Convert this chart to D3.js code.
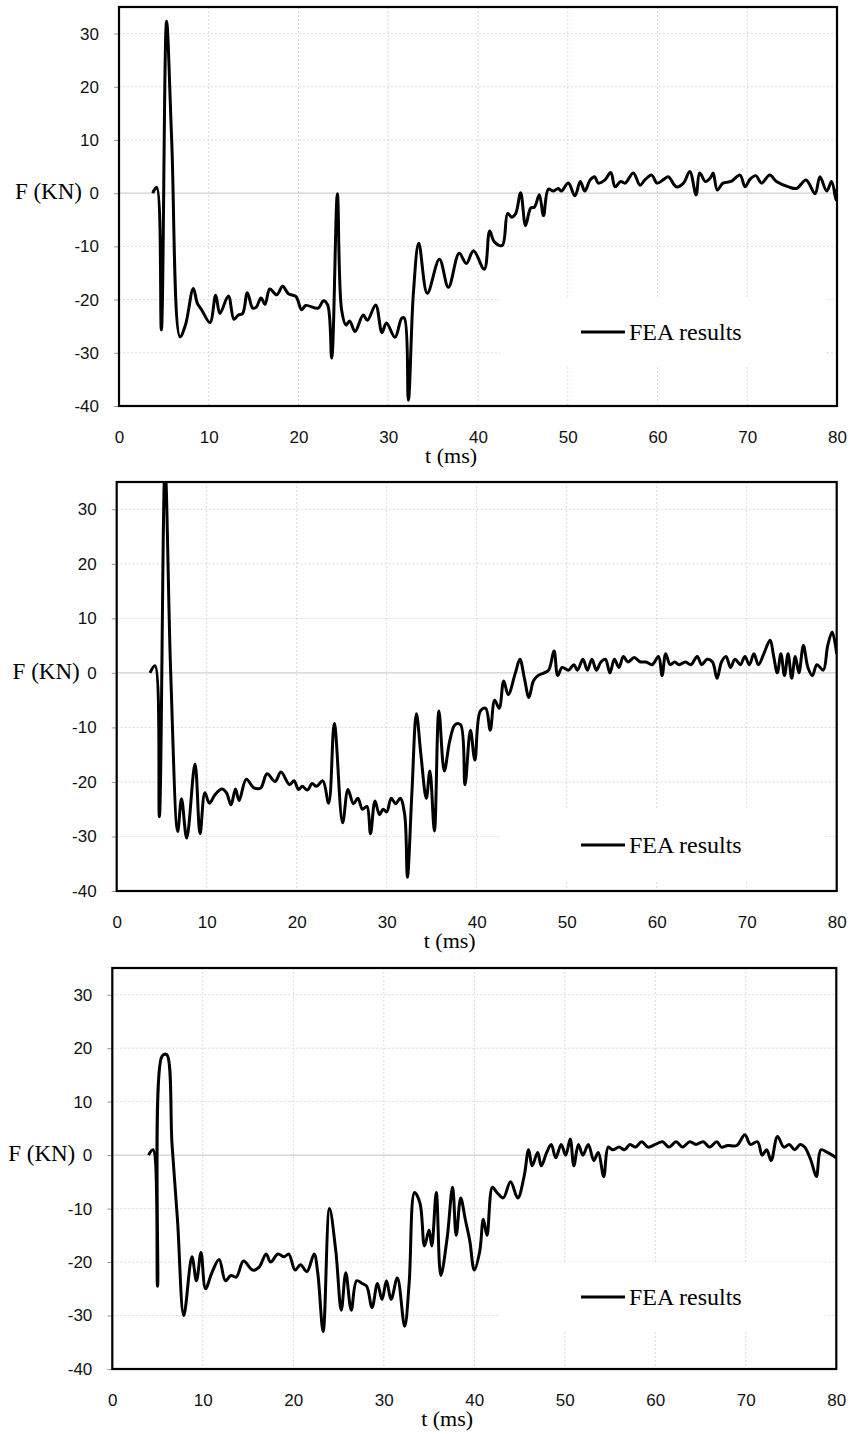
<!DOCTYPE html>
<html>
<head>
<meta charset="utf-8">
<script src="https://cdn.jsdelivr.net/npm/d3@7"></script>
<style>
	body { margin: 0; background: #fff; }
</style>
</head>
<body>
<svg id="chart" width="850" height="1434"></svg>
<script>
// tick values and labels
const xTicks = [0, 10, 20, 30, 40, 50, 60, 70, 80];
const yTicks = [-40, -30, -20, -10, 0, 10, 20, 30];
const xLabel = 't (ms)';
const yLabel = 'F (KN)';
const legendLabel = 'FEA results';

// [t (ms), F (KN)]
const fea1 = [[3.75,0],[4.2,1.1],[4.72,-25.7],[5.3,32.3],[5.87,10],[6.8,-27],[7.4,-24.8],[8.28,-17.9],[8.73,-20.7],[9.2,-21.9],
	[10.14,-24.3],[10.77,-19.2],[11.25,-22.6],[12.18,-19.3],[12.81,-23.7],[13.3,-22.9],[13.78,-22.6],[14.3,-18.7],[14.9,-21.6],[15.3,-21.4],
	[15.82,-19.7],[16.27,-20.9],[16.8,-18],[17.57,-19.1],[18.24,-17.5],[18.87,-18.9],[19.7,-19.4],[20.35,-21.9],[20.8,-21.1],[22.2,-21.6],
	[22.77,-20.2],[23.25,-21],[23.7,-31],[24.33,-0.1],[24.8,-21.9],[25.3,-24.8],[25.7,-24],[26.3,-26],[27.2,-22.9],[27.67,-23.9],
	[28.6,-21],[29.3,-26.2],[29.8,-24.4],[30.75,-27.1],[31.5,-23.5],[31.8,-23.5],[32.24,-38.9],[32.8,-18.8],[33.4,-9.4],[34.35,-18.8],
	[35.7,-12.4],[36.7,-17.7],[37.9,-11.3],[38.7,-13.2],[39.5,-10.8],[40.7,-14.3],[41.3,-7.1],[41.8,-9.1],[42.7,-9.8],[43.3,-3.8],
	[43.75,-4.5],[44.2,-3.8],[44.75,0.1],[45.3,-6.1],[45.87,-2.8],[46.3,-2.6],[46.83,-0.3],[47.3,-4.2],[47.83,0.75],[48.4,0.4],
	[48.95,0.9],[49.3,0.4],[50.06,1.9],[50.8,-0.5],[51.4,2.2],[51.9,0.4],[52.5,2.5],[53,3.1],[53.4,1.9],[54.15,2.5],
	[54.8,3.9],[55.27,1.2],[55.9,2.2],[56.4,1.9],[57.3,3.8],[58.05,1.5],[58.6,2.5],[59.35,3.4],[59.95,1.9],[60.7,2.6],
	[61.2,3.1],[62.1,1.2],[62.9,1.9],[63.6,4.1],[64.3,-0.3],[64.7,3.8],[65.35,2.2],[65.9,2.9],[66.2,3.8],[66.66,0.6],
	[67.3,1.9],[68.2,2.2],[69.2,3.4],[69.75,1.2],[70.3,2.6],[70.95,3.3],[71.6,1.9],[72.5,3.4],[73.25,2.2],[74.6,1.2],
	[75.5,0.9],[76.55,2.5],[77.55,-0.1],[78.1,3.1],[78.85,0.4],[79.4,2.2],[79.9,-1.3],[80,0.8]];

const fea2 = [[3.7,0],[4.26,1.3],[4.74,-26.4],[5.37,38],[6,0],[6.78,-29.1],[7.2,-23.1],[7.78,-30.3],[8.7,-16.7],[9.26,-29.5],
	[9.8,-22],[10.3,-23.9],[10.9,-22.4],[11.67,-21.3],[12.2,-22],[12.7,-24.2],[13.2,-21.3],[13.6,-23.4],[14.4,-19.5],[15.25,-21.1],
	[16,-21.1],[16.7,-18.5],[17.6,-19.9],[18.25,-18.2],[19.2,-20.5],[19.7,-19.8],[20.2,-21.4],[20.6,-20.8],[21.2,-21.5],[21.7,-20.3],
	[22.2,-20.8],[22.9,-19.8],[23.55,-23.9],[24.18,-9.3],[25.1,-27.5],[25.7,-21.4],[26.3,-24],[26.8,-23],[27.3,-25],[27.8,-24.5],
	[28.2,-29.5],[28.7,-23.5],[29.2,-26],[29.6,-25],[30,-25.5],[30.5,-23],[31,-24],[31.5,-23],[32,-26],[32.3,-37.5],
	[32.8,-22],[33.3,-7.5],[33.8,-15],[34.4,-23],[34.8,-18],[35.3,-29],[35.8,-7],[36.4,-18],[37,-12.5],[37.6,-9.5],
	[38.2,-9.5],[38.7,-20.5],[39.3,-10.5],[39.8,-16],[40.4,-7],[41,-6.5],[41.5,-10.5],[42,-5],[42.5,-6.5],[43,-1.5],
	[43.5,-4],[44.3,0],[44.8,2.5],[45.3,-1],[45.8,-4.5],[46.3,-1.5],[46.8,-0.5],[47.5,0],[48,0.5],[48.6,4],
	[49,-0.5],[49.5,1],[50.2,0.5],[50.8,1.5],[51.2,0.5],[51.8,2.5],[52.3,0.5],[52.8,2.5],[53.3,0.5],[53.8,2],
	[54.3,2.5],[54.8,0],[55.3,2.5],[55.8,1],[56.3,3],[56.8,2],[57.5,2.8],[58.2,2],[58.8,2],[59.5,1.5],
	[60.2,3],[60.6,-0.5],[61,3.5],[61.5,1.5],[62,2],[62.5,1.5],[63.2,2],[63.8,1.5],[64.5,3],[65,1.5],
	[65.6,2.5],[66.2,2],[66.7,-1],[67.2,2],[67.7,3],[68.2,1],[68.7,2.5],[69.3,1.5],[69.8,3],[70.3,1.5],
	[70.8,3.5],[71.3,1.5],[71.9,3.5],[72.6,6],[73,3],[73.4,0],[73.8,3.5],[74.2,-0.5],[74.6,3.5],[75,-1],
	[75.4,3],[75.8,0],[76.3,5],[76.8,1],[77.3,-0.5],[77.8,1.5],[78.5,0.5],[79,5],[79.5,7.5],[80,3.5]];

const fea3 = [[4,0],[4.5,1],[5,-24.5],[5.5,18.5],[6,18.8],[6.6,2],[7.2,-12],[7.9,-30],[8.8,-19],[9.3,-23.5],
	[9.8,-18.2],[10.3,-25],[11,-22],[11.8,-19.5],[12.5,-23.5],[13.1,-22.5],[13.7,-22.8],[14.5,-19.8],[15.5,-21.5],[16.2,-21],
	[17,-18.5],[17.5,-20],[18.3,-18.5],[19,-19],[19.5,-18.5],[20.2,-21.5],[20.8,-20.5],[21.5,-21.8],[22.3,-18.5],[22.7,-22],
	[23.3,-33],[24,-10],[24.7,-18],[25.3,-29],[25.8,-22],[26.4,-29],[27,-23.5],[27.6,-24],[28.1,-24.5],[28.7,-28.5],
	[29.3,-24],[29.8,-27],[30.3,-23.5],[30.8,-27],[31.5,-23],[32.3,-32],[32.8,-24],[33.4,-7],[34,-9],[34.5,-17],
	[35,-14],[35.3,-17],[35.8,-7],[36.3,-22.5],[37,-15.5],[37.6,-6],[38,-15],[38.5,-8],[39,-12],[39.5,-16],
	[40,-21.5],[40.6,-18],[41,-12],[41.4,-15],[42,-6],[42.5,-7],[43.2,-8],[44,-5],[44.8,-8],[45.5,-4],
	[46,1],[46.4,-2],[47,0.5],[47.4,-2],[48,0.5],[48.5,2],[49,-0.5],[49.6,2],[50.1,0],[50.6,3],
	[51,-2],[51.5,2],[52,0],[52.6,2],[53.2,-1],[53.7,0.5],[54.3,-4],[54.8,1.5],[55.3,1],[56,1.5],
	[56.6,1],[57.2,2],[57.8,1.5],[58.5,2.5],[59.2,1.5],[60,2],[60.8,2.5],[61.5,1.5],[62.3,2.5],[63,1.5],
	[63.8,2.5],[64.5,2],[65.3,2.5],[66,1.5],[66.8,2.5],[67.3,1.5],[68,1.8],[69,1.8],[69.9,3.8],[70.5,2],
	[71.3,2.5],[71.8,0],[72.3,1],[72.8,-1],[73.5,3.5],[74.2,1.5],[74.8,2],[75.4,1],[76,2],[76.5,1.5],
	[77.2,-1],[77.8,-4],[78.3,1],[79,0.5],[80,-0.5]];

const svg = d3.select('#chart');

// pixel boxes of the three plot areas
const panels = [
	{data: fea1, left: 119, right: 837, top: 7, bottom: 406, legY: 332},
	{data: fea2, left: 116.7, right: 836.7, top: 482, bottom: 891, legY: 845},
	{data: fea3, left: 112.3, right: 836.3, top: 968, bottom: 1369, legY: 1297}
];

const sans = '"Liberation Sans", Arial, sans-serif';
const serif = '"Liberation Serif", "Times New Roman", serif';

panels.forEach((p, k) => {
	const x = d3.scaleLinear().domain([0, 80]).range([p.left, p.right]);
	const y = d3.scaleLinear().domain([-40, 35]).range([p.bottom, p.top]);
	const g = svg.append('g');

	// grid lines
	g.selectAll('line.vg').data(xTicks.slice(1, -1)).join('line')
		.attr('class', 'vg')
		.attr('x1', d => x(d)).attr('x2', d => x(d))
		.attr('y1', p.top).attr('y2', p.bottom)
		.attr('stroke', '#d9d9d9').attr('stroke-dasharray', '2,2');
	g.selectAll('line.hg').data(yTicks.slice(1)).join('line')
		.attr('class', 'hg')
		.attr('x1', p.left).attr('x2', p.right)
		.attr('y1', d => y(d)).attr('y2', d => y(d))
		.attr('stroke', d => d === 0 ? '#cfcfcf' : '#d9d9d9')
		.attr('stroke-width', d => d === 0 ? 1.3 : 1)
		.attr('stroke-dasharray', d => d === 0 ? null : '2,2');

	// legend box (white, hides the grid)
	g.append('rect')
		.attr('x', 500).attr('y', p.legY - 35)
		.attr('width', 325).attr('height', 70)
		.attr('fill', '#fff');

	// y axis
	const ya = g.append('g')
		.attr('transform', 'translate(' + p.left + ',0)')
		.call(d3.axisLeft(y).tickValues(yTicks).tickSize(5).tickPadding(15).tickFormat(d => String(d)));
	ya.select('.domain').remove();
	ya.selectAll('.tick line').attr('stroke', '#999');
	ya.selectAll('.tick text')
		.attr('font-family', sans)
		.attr('font-size', 17).attr('fill', '#111');

	// x axis
	const xa = g.append('g')
		.attr('transform', 'translate(0,' + p.bottom + ')')
		.call(d3.axisBottom(x).tickValues(xTicks).tickSize(0).tickPadding(25).tickFormat(d => String(d)));
	xa.select('.domain').remove();
	xa.selectAll('.tick text')
		.attr('font-family', sans)
		.attr('font-size', 17).attr('fill', '#111');

	// clip
	const clipId = 'clip' + k;
	svg.append('clipPath').attr('id', clipId)
		.append('rect')
		.attr('x', p.left).attr('y', p.top)
		.attr('width', p.right - p.left).attr('height', p.bottom - p.top);

	const line = d3.line()
		.x(d => x(d[0])).y(d => y(d[1]))
		.curve(d3.curveCatmullRom.alpha(0.5));

	g.append('path')
		.datum(p.data)
		.attr('clip-path', 'url(#' + clipId + ')')
		.attr('d', line)
		.attr('fill', 'none')
		.attr('stroke', '#000')
		.attr('stroke-width', 3)
		.attr('stroke-linejoin', 'round');

	// legend
	g.append('line')
		.attr('x1', 581).attr('x2', 625)
		.attr('y1', p.legY).attr('y2', p.legY)
		.attr('stroke', '#000').attr('stroke-width', 3);
	g.append('text')
		.attr('x', 629).attr('y', p.legY + 8)
		.attr('font-family', serif)
		.attr('font-size', 24)
		.text(legendLabel);

	// plot border
	g.append('rect')
		.attr('x', p.left).attr('y', p.top)
		.attr('width', p.right - p.left).attr('height', p.bottom - p.top)
		.attr('fill', 'none').attr('stroke', '#000').attr('stroke-width', 2.2);

	// axis titles
	g.append('text')
		.attr('x', p.left - 37).attr('y', y(0) + 6)
		.attr('text-anchor', 'end')
		.attr('font-family', serif)
		.attr('font-size', 23)
		.text(yLabel);
	g.append('text')
		.attr('x', x(37)).attr('y', p.bottom + 57)
		.attr('text-anchor', 'middle')
		.attr('font-family', serif)
		.attr('font-size', 22)
		.text(xLabel);
});
</script>
</body>
</html>
